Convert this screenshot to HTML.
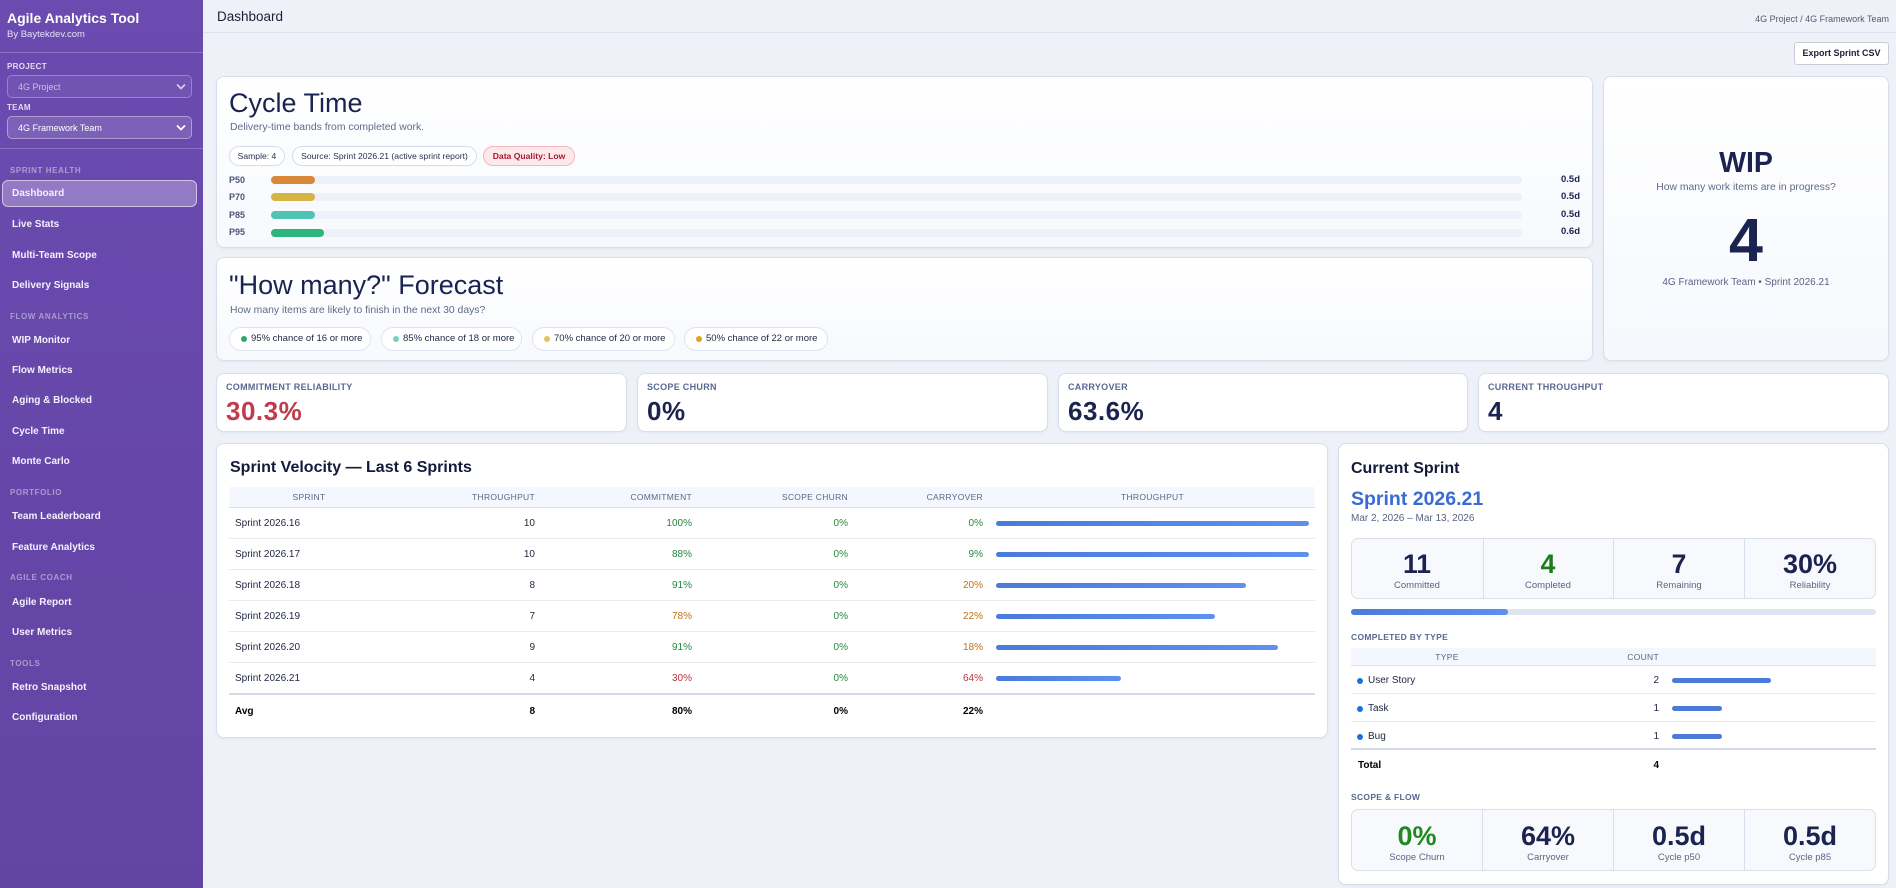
<!DOCTYPE html>
<html><head><meta charset="utf-8">
<style>
html,body{margin:0;padding:0;}
body{width:1896px;height:888px;position:relative;overflow:hidden;background:#eef1f8;font-family:"Liberation Sans",Arial,sans-serif;color:#1b2350;}
.a{position:absolute;white-space:nowrap;}
.sb{position:absolute;left:0;top:0;width:203px;height:888px;background:linear-gradient(180deg,#6b4bb0 0%,#6546a8 60%,#6245a3 100%);}
.nav{position:absolute;left:12px;font-size:10px;font-weight:bold;color:#f4f0fc;line-height:14px;white-space:nowrap;}
.sec{position:absolute;left:10px;font-size:8px;font-weight:bold;letter-spacing:.6px;color:rgba(255,255,255,.45);line-height:14px;white-space:nowrap;}
.card{position:absolute;background:linear-gradient(180deg,#ffffff 0%,#f7f9fe 100%);border:1px solid #d8deec;border-radius:8px;box-sizing:border-box;box-shadow:0 1px 2px rgba(20,30,60,.05);}
.pill{position:absolute;height:20px;box-sizing:border-box;border:1px solid #d5dcec;border-radius:10px;background:#fff;font-size:8.6px;line-height:18px;text-align:center;color:#2a3150;white-space:nowrap;}
.fp{position:absolute;top:327px;height:24px;box-sizing:border-box;border:1px solid #dde3f0;border-radius:12px;background:#fff;font-size:9.5px;line-height:22px;color:#1e2540;white-space:nowrap;}
.fp i{position:absolute;left:11px;top:8px;width:6px;height:6px;border-radius:50%;}
.fp span{position:absolute;left:21px;}
.plab{position:absolute;left:229px;font-size:9px;font-weight:bold;color:#4b5675;line-height:12px;}
.trk{position:absolute;left:271px;width:1251px;height:8px;border-radius:4px;background:#edf1f9;}
.trk b{position:absolute;left:0;top:0;height:8px;border-radius:4px;}
.pval{position:absolute;right:316px;font-size:9.5px;font-weight:bold;color:#1b2350;line-height:12px;}
.klab{position:absolute;top:380px;font-size:9px;font-weight:bold;letter-spacing:.3px;color:#5a6890;line-height:14px;white-space:nowrap;}
.kval{position:absolute;top:396px;font-size:26px;font-weight:bold;letter-spacing:.5px;line-height:30px;color:#1b2350;white-space:nowrap;}
.th{position:absolute;top:490px;font-size:8.5px;letter-spacing:.3px;color:#5d6686;line-height:14px;white-space:nowrap;}
.td{position:absolute;font-size:10px;color:#1e2540;line-height:14px;white-space:nowrap;}
.g{color:#23883a;}.o{color:#c0720f;}.r{color:#b83241;}
.bar{position:absolute;left:996px;height:5px;border-radius:3px;background:linear-gradient(90deg,#4a7bd9,#5d90ef);}
.rl{position:absolute;left:229px;width:1086px;height:1px;background:#e6eaf3;}
.sbox{position:absolute;left:1351px;width:525px;box-sizing:border-box;background:#f7f9fd;border:1px solid #d9dfec;border-radius:7px;}
.dv{position:absolute;width:1px;background:#d9dfec;}
.snum{position:absolute;width:130px;text-align:center;font-weight:bold;font-size:26.5px;line-height:30px;color:#1b2350;}
.slab{position:absolute;width:130px;text-align:center;font-size:9.5px;line-height:12px;color:#5a6585;}
.ttd{position:absolute;font-size:10px;color:#1e2540;line-height:14px;white-space:nowrap;}
.dot{position:absolute;left:1357px;width:6px;height:6px;border-radius:50%;background:#1a73d8;}
.cb{position:absolute;left:1672px;height:5px;border-radius:3px;background:#4a7bd9;}
</style></head><body>

<!-- Sidebar -->
<div class="sb"></div>
<div class="a" style="left:7px;top:9px;font-size:14px;font-weight:bold;color:#fff;line-height:18px;">Agile Analytics Tool</div>
<div class="a" style="left:7px;top:28px;font-size:9.5px;color:#e8e0f6;line-height:14px;">By Baytekdev.com</div>
<div class="a" style="left:0;top:52px;width:203px;height:1px;background:rgba(255,255,255,.22);"></div>
<div class="a" style="left:7px;top:60px;font-size:8px;font-weight:bold;letter-spacing:.3px;color:#e2daf3;line-height:14px;">PROJECT</div>
<div class="a" style="left:7px;top:75px;width:185px;height:23px;box-sizing:border-box;border:1px solid rgba(255,255,255,.28);background:rgba(255,255,255,.05);border-radius:5px;"></div>
<div class="a" style="left:18px;top:80px;font-size:9px;color:rgba(255,255,255,.62);line-height:14px;">4G Project</div>
<svg class="a" style="left:176px;top:83px;" width="10" height="7" viewBox="0 0 10 7"><polyline points="1,1.5 5,5.5 9,1.5" fill="none" stroke="rgba(255,255,255,.7)" stroke-width="1.8"/></svg>
<div class="a" style="left:7px;top:101px;font-size:8px;font-weight:bold;letter-spacing:.3px;color:#e2daf3;line-height:14px;">TEAM</div>
<div class="a" style="left:7px;top:116px;width:185px;height:23px;box-sizing:border-box;border:1px solid rgba(255,255,255,.38);background:rgba(255,255,255,.13);border-radius:5px;"></div>
<div class="a" style="left:18px;top:121px;font-size:9px;color:#fff;line-height:14px;">4G Framework Team</div>
<svg class="a" style="left:176px;top:124px;" width="10" height="7" viewBox="0 0 10 7"><polyline points="1,1.5 5,5.5 9,1.5" fill="none" stroke="#fff" stroke-width="1.8"/></svg>
<div class="a" style="left:0;top:148px;width:203px;height:1px;background:rgba(255,255,255,.22);"></div>

<div class="sec" style="top:164px;">SPRINT HEALTH</div>
<div class="a" style="left:2px;top:180px;width:195px;height:27px;box-sizing:border-box;background:rgba(255,255,255,.28);border:1px solid rgba(255,255,255,.55);border-radius:6px;"></div>
<div class="nav" style="top:187px;">Dashboard</div>
<div class="nav" style="top:218px;">Live Stats</div>
<div class="nav" style="top:249px;">Multi-Team Scope</div>
<div class="nav" style="top:279px;">Delivery Signals</div>
<div class="sec" style="top:310px;">FLOW ANALYTICS</div>
<div class="nav" style="top:334px;">WIP Monitor</div>
<div class="nav" style="top:364px;">Flow Metrics</div>
<div class="nav" style="top:394px;">Aging &amp; Blocked</div>
<div class="nav" style="top:425px;">Cycle Time</div>
<div class="nav" style="top:455px;">Monte Carlo</div>
<div class="sec" style="top:486px;">PORTFOLIO</div>
<div class="nav" style="top:510px;">Team Leaderboard</div>
<div class="nav" style="top:541px;">Feature Analytics</div>
<div class="sec" style="top:571px;">AGILE COACH</div>
<div class="nav" style="top:596px;">Agile Report</div>
<div class="nav" style="top:626px;">User Metrics</div>
<div class="sec" style="top:657px;">TOOLS</div>
<div class="nav" style="top:681px;">Retro Snapshot</div>
<div class="nav" style="top:711px;">Configuration</div>

<!-- Header -->
<div class="a" style="left:217px;top:9px;font-size:13.5px;color:#1a1f36;line-height:16px;">Dashboard</div>
<div class="a" style="right:7px;top:12px;font-size:9px;color:#555b6e;line-height:14px;">4G Project / 4G Framework Team</div>
<div class="a" style="left:203px;top:32px;width:1693px;height:1px;background:#dde1ea;"></div>
<div class="a" style="left:1794px;top:42px;width:95px;height:23px;box-sizing:border-box;background:#fff;border:1px solid #c8ccd6;border-radius:3px;font-size:9px;font-weight:bold;color:#1a1f36;text-align:center;line-height:21px;">Export Sprint CSV</div>

<!-- Cycle Time card -->
<div class="card" style="left:216px;top:76px;width:1377px;height:172px;"></div>
<div class="a" style="left:229px;top:87px;font-size:27px;line-height:32px;color:#1b2350;">Cycle Time</div>
<div class="a" style="left:230px;top:121px;font-size:10.4px;line-height:14px;color:#5f6b8a;">Delivery-time bands from completed work.</div>
<div class="pill" style="left:229px;top:146px;width:56px;">Sample: 4</div>
<div class="pill" style="left:292px;top:146px;width:185px;">Source: Sprint 2026.21 (active sprint report)</div>
<div class="pill" style="left:483px;top:146px;width:92px;background:#fde9eb;border-color:#f0b7be;color:#a61b2f;font-weight:bold;">Data Quality: Low</div>

<div class="plab" style="top:174px;">P50</div>
<div class="trk" style="top:176px;"><b style="width:44px;background:#d9883a;"></b></div>
<div class="pval" style="top:174px;">0.5d</div>
<div class="plab" style="top:191px;">P70</div>
<div class="trk" style="top:193px;"><b style="width:44px;background:#d6b445;"></b></div>
<div class="pval" style="top:191px;">0.5d</div>
<div class="plab" style="top:209px;">P85</div>
<div class="trk" style="top:211px;"><b style="width:44px;background:#4fc4b5;"></b></div>
<div class="pval" style="top:209px;">0.5d</div>
<div class="plab" style="top:226px;">P95</div>
<div class="trk" style="top:229px;"><b style="width:53px;background:#2eb57a;"></b></div>
<div class="pval" style="top:226px;">0.6d</div>

<!-- Forecast card -->
<div class="card" style="left:216px;top:257px;width:1377px;height:104px;"></div>
<div class="a" style="left:229px;top:269px;font-size:27px;line-height:32px;color:#1b2350;">"How many?" Forecast</div>
<div class="a" style="left:230px;top:304px;font-size:10.4px;line-height:14px;color:#5f6b8a;">How many items are likely to finish in the next 30 days?</div>
<div class="fp" style="left:229px;width:142px;"><i style="background:#2aa86a;"></i><span>95% chance of 16 or more</span></div>
<div class="fp" style="left:381px;width:141px;"><i style="background:#74d3bf;"></i><span>85% chance of 18 or more</span></div>
<div class="fp" style="left:532px;width:143px;"><i style="background:#e6c257;"></i><span>70% chance of 20 or more</span></div>
<div class="fp" style="left:684px;width:144px;"><i style="background:#e0a125;"></i><span>50% chance of 22 or more</span></div>

<!-- WIP card -->
<div class="card" style="left:1603px;top:76px;width:286px;height:285px;background:linear-gradient(180deg,#ffffff 0%,#f6f8fd 100%);"></div>
<div class="a" style="left:1603px;width:286px;text-align:center;top:146px;font-size:28.5px;font-weight:bold;line-height:34px;color:#1b2350;">WIP</div>
<div class="a" style="left:1603px;width:286px;text-align:center;top:181px;font-size:10.4px;line-height:14px;color:#5f6b8a;">How many work items are in progress?</div>
<div class="a" style="left:1603px;width:286px;text-align:center;top:205px;font-size:61px;font-weight:bold;line-height:70px;color:#1b2350;">4</div>
<div class="a" style="left:1603px;width:286px;text-align:center;top:276px;font-size:10px;line-height:14px;color:#5a6585;">4G Framework Team • Sprint 2026.21</div>

<!-- KPI cards -->
<div class="card" style="left:216px;top:373px;width:411px;height:59px;background:#fff;"></div>
<div class="card" style="left:637px;top:373px;width:411px;height:59px;background:#fff;"></div>
<div class="card" style="left:1058px;top:373px;width:410px;height:59px;background:#fff;"></div>
<div class="card" style="left:1478px;top:373px;width:411px;height:59px;background:#fff;"></div>
<div class="klab" style="left:226px;">COMMITMENT RELIABILITY</div>
<div class="kval" style="left:226px;color:#c23b4b;">30.3%</div>
<div class="klab" style="left:647px;">SCOPE CHURN</div>
<div class="kval" style="left:647px;">0%</div>
<div class="klab" style="left:1068px;">CARRYOVER</div>
<div class="kval" style="left:1068px;">63.6%</div>
<div class="klab" style="left:1488px;">CURRENT THROUGHPUT</div>
<div class="kval" style="left:1488px;">4</div>

<!-- Velocity card -->
<div class="card" style="left:216px;top:443px;width:1112px;height:295px;background:#fff;"></div>
<div class="a" style="left:230px;top:458px;font-size:16px;font-weight:bold;line-height:20px;color:#141a3a;">Sprint Velocity — Last 6 Sprints</div>
<div class="a" style="left:229px;top:487px;width:1086px;height:21px;background:#f4f7fd;border-bottom:1px solid #dde2ee;box-sizing:border-box;"></div>
<div class="th" style="left:229px;width:160px;text-align:center;">SPRINT</div>
<div class="th" style="right:1361px;">THROUGHPUT</div>
<div class="th" style="right:1204px;">COMMITMENT</div>
<div class="th" style="right:1048px;">SCOPE CHURN</div>
<div class="th" style="right:913px;">CARRYOVER</div>
<div class="th" style="left:996px;width:313px;text-align:center;">THROUGHPUT</div>

<div class="rl" style="top:538px;"></div>
<div class="rl" style="top:569px;"></div>
<div class="rl" style="top:600px;"></div>
<div class="rl" style="top:631px;"></div>
<div class="rl" style="top:662px;"></div>
<div class="rl" style="top:693px;background:#d3d9e6;height:1.5px;"></div>

<!-- row 1 -->
<div class="td" style="left:235px;top:517px;">Sprint 2026.16</div>
<div class="td" style="right:1361px;top:517px;">10</div>
<div class="td g" style="right:1204px;top:517px;">100%</div>
<div class="td g" style="right:1048px;top:517px;">0%</div>
<div class="td g" style="right:913px;top:517px;">0%</div>
<div class="bar" style="top:521px;width:313px;"></div>
<!-- row 2 -->
<div class="td" style="left:235px;top:548px;">Sprint 2026.17</div>
<div class="td" style="right:1361px;top:548px;">10</div>
<div class="td g" style="right:1204px;top:548px;">88%</div>
<div class="td g" style="right:1048px;top:548px;">0%</div>
<div class="td g" style="right:913px;top:548px;">9%</div>
<div class="bar" style="top:552px;width:313px;"></div>
<!-- row 3 -->
<div class="td" style="left:235px;top:579px;">Sprint 2026.18</div>
<div class="td" style="right:1361px;top:579px;">8</div>
<div class="td g" style="right:1204px;top:579px;">91%</div>
<div class="td g" style="right:1048px;top:579px;">0%</div>
<div class="td o" style="right:913px;top:579px;">20%</div>
<div class="bar" style="top:583px;width:250px;"></div>
<!-- row 4 -->
<div class="td" style="left:235px;top:610px;">Sprint 2026.19</div>
<div class="td" style="right:1361px;top:610px;">7</div>
<div class="td o" style="right:1204px;top:610px;">78%</div>
<div class="td g" style="right:1048px;top:610px;">0%</div>
<div class="td o" style="right:913px;top:610px;">22%</div>
<div class="bar" style="top:614px;width:219px;"></div>
<!-- row 5 -->
<div class="td" style="left:235px;top:641px;">Sprint 2026.20</div>
<div class="td" style="right:1361px;top:641px;">9</div>
<div class="td g" style="right:1204px;top:641px;">91%</div>
<div class="td g" style="right:1048px;top:641px;">0%</div>
<div class="td o" style="right:913px;top:641px;">18%</div>
<div class="bar" style="top:645px;width:282px;"></div>
<!-- row 6 -->
<div class="td" style="left:235px;top:672px;">Sprint 2026.21</div>
<div class="td" style="right:1361px;top:672px;">4</div>
<div class="td r" style="right:1204px;top:672px;">30%</div>
<div class="td g" style="right:1048px;top:672px;">0%</div>
<div class="td r" style="right:913px;top:672px;">64%</div>
<div class="bar" style="top:676px;width:125px;"></div>
<!-- avg -->
<div class="td" style="left:235px;top:705px;font-weight:bold;color:#000;">Avg</div>
<div class="td" style="right:1361px;top:705px;font-weight:bold;color:#000;">8</div>
<div class="td" style="right:1204px;top:705px;font-weight:bold;color:#000;">80%</div>
<div class="td" style="right:1048px;top:705px;font-weight:bold;color:#000;">0%</div>
<div class="td" style="right:913px;top:705px;font-weight:bold;color:#000;">22%</div>

<!-- Current Sprint card -->
<div class="card" style="left:1338px;top:443px;width:551px;height:442px;background:#fff;"></div>
<div class="a" style="left:1351px;top:459px;font-size:16px;font-weight:bold;line-height:20px;color:#141a3a;">Current Sprint</div>
<div class="a" style="left:1351px;top:487px;font-size:19.5px;font-weight:bold;line-height:24px;color:#3a6bd4;">Sprint 2026.21</div>
<div class="a" style="left:1351px;top:512px;font-size:10px;line-height:14px;color:#5a6380;">Mar 2, 2026 – Mar 13, 2026</div>

<div class="sbox" style="top:538px;height:61px;"></div>
<div class="dv" style="left:1483px;top:539px;height:59px;"></div>
<div class="dv" style="left:1613px;top:539px;height:59px;"></div>
<div class="dv" style="left:1744px;top:539px;height:59px;"></div>
<div class="snum" style="left:1352px;top:549px;">11</div>
<div class="slab" style="left:1352px;top:580px;">Committed</div>
<div class="snum" style="left:1483px;top:549px;color:#1b7d1b;">4</div>
<div class="slab" style="left:1483px;top:580px;">Completed</div>
<div class="snum" style="left:1614px;top:549px;">7</div>
<div class="slab" style="left:1614px;top:580px;">Remaining</div>
<div class="snum" style="left:1745px;top:549px;font-size:27px;">30%</div>
<div class="slab" style="left:1745px;top:580px;">Reliability</div>

<div class="a" style="left:1351px;top:609px;width:525px;height:6px;border-radius:3px;background:#dfe4f3;"></div>
<div class="a" style="left:1351px;top:609px;width:157px;height:6px;border-radius:3px;background:linear-gradient(90deg,#4a7bd9,#5d90ef);"></div>

<div class="a" style="left:1351px;top:630px;font-size:8.5px;font-weight:bold;letter-spacing:.3px;line-height:14px;color:#5a6890;">COMPLETED BY TYPE</div>
<div class="a" style="left:1351px;top:648px;width:525px;height:18px;background:#f4f7fd;border-bottom:1px solid #dde2ee;box-sizing:border-box;"></div>
<div class="th" style="top:650px;left:1351px;width:192px;text-align:center;">TYPE</div>
<div class="th" style="top:650px;right:237px;">COUNT</div>

<div class="a" style="left:1351px;top:693px;width:525px;height:1px;background:#e6eaf3;"></div>
<div class="a" style="left:1351px;top:721px;width:525px;height:1px;background:#e6eaf3;"></div>
<div class="a" style="left:1351px;top:748px;width:525px;height:1.5px;background:#d3d9e6;"></div>

<div class="dot" style="top:678px;"></div>
<div class="ttd" style="left:1368px;top:674px;">User Story</div>
<div class="ttd" style="right:237px;top:674px;">2</div>
<div class="cb" style="top:678px;width:99px;"></div>

<div class="dot" style="top:706px;"></div>
<div class="ttd" style="left:1368px;top:702px;">Task</div>
<div class="ttd" style="right:237px;top:702px;">1</div>
<div class="cb" style="top:706px;width:50px;"></div>

<div class="dot" style="top:734px;"></div>
<div class="ttd" style="left:1368px;top:730px;">Bug</div>
<div class="ttd" style="right:237px;top:730px;">1</div>
<div class="cb" style="top:734px;width:50px;"></div>

<div class="ttd" style="left:1358px;top:759px;font-weight:bold;color:#000;">Total</div>
<div class="ttd" style="right:237px;top:759px;font-weight:bold;color:#000;">4</div>

<div class="a" style="left:1351px;top:790px;font-size:8.5px;font-weight:bold;letter-spacing:.3px;line-height:14px;color:#5a6890;">SCOPE &amp; FLOW</div>
<div class="sbox" style="top:809px;height:62px;"></div>
<div class="dv" style="left:1482px;top:810px;height:60px;"></div>
<div class="dv" style="left:1613px;top:810px;height:60px;"></div>
<div class="dv" style="left:1744px;top:810px;height:60px;"></div>
<div class="snum" style="left:1352px;top:821px;font-size:27px;color:#1f8a1f;">0%</div>
<div class="slab" style="left:1352px;top:852px;">Scope Churn</div>
<div class="snum" style="left:1483px;top:821px;font-size:27px;">64%</div>
<div class="slab" style="left:1483px;top:852px;">Carryover</div>
<div class="snum" style="left:1614px;top:821px;font-size:27px;">0.5d</div>
<div class="slab" style="left:1614px;top:852px;">Cycle p50</div>
<div class="snum" style="left:1745px;top:821px;font-size:27px;">0.5d</div>
<div class="slab" style="left:1745px;top:852px;">Cycle p85</div>

</body></html>
